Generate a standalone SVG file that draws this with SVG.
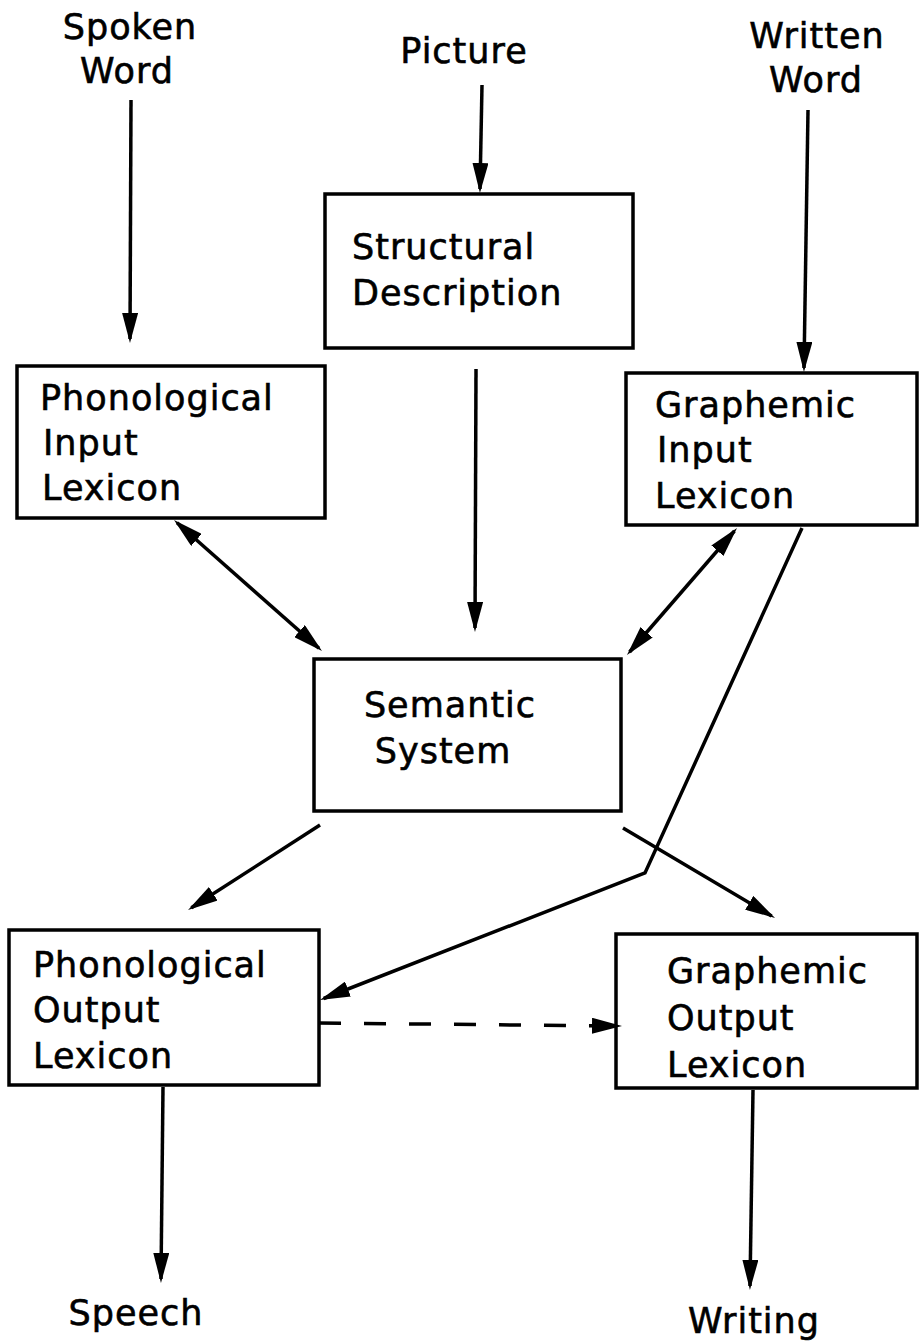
<svg xmlns="http://www.w3.org/2000/svg" width="920" height="1344" viewBox="0 0 920 1344">
<style>
.box{fill:#fff;stroke:#000;stroke-width:3.5}
.t{font-family:"DejaVu Sans",Verdana,sans-serif;font-size:35px;letter-spacing:1px;fill:#000;stroke:#000;stroke-width:0.6}
.c{stroke:#000;stroke-width:3.5;fill:none}
.a{marker-end:url(#ah)}
.d{marker-start:url(#ah);marker-end:url(#ah)}
</style>
<defs>
<marker id="ah" viewBox="0 0 30 16" refX="26" refY="8" markerWidth="30" markerHeight="16" markerUnits="userSpaceOnUse" orient="auto-start-reverse">
<path d="M0,0 L30,8 L0,16 Z" fill="#000"/>
</marker>
</defs>
<rect width="920" height="1344" fill="#fff"/>
<g id="labels">
<text class="t" x="130" y="39" text-anchor="middle">Spoken</text>
<text class="t" x="127" y="83" text-anchor="middle">Word</text>
<text class="t" x="464" y="63" text-anchor="middle">Picture</text>
<text class="t" x="817" y="48" text-anchor="middle">Written</text>
<text class="t" x="816" y="92" text-anchor="middle">Word</text>
<text class="t" x="136" y="1325" text-anchor="middle">Speech</text>
<text class="t" x="754" y="1333" text-anchor="middle">Writing</text>
</g>
<g id="structural">
<rect class="box" x="325" y="194" width="308" height="154"/>
<text class="t" x="352" y="259">Structural</text>
<text class="t" x="352" y="305">Description</text>
</g>
<g id="phon-input">
<rect class="box" x="17" y="366" width="308" height="152"/>
<text class="t" x="40" y="410">Phonological</text>
<text class="t" x="43" y="455">Input</text>
<text class="t" x="42" y="500">Lexicon</text>
</g>
<g id="graph-input">
<rect class="box" x="626" y="373" width="291" height="152"/>
<text class="t" x="655" y="417">Graphemic</text>
<text class="t" x="657" y="462">Input</text>
<text class="t" x="655" y="508">Lexicon</text>
</g>
<g id="semantic">
<rect class="box" x="314" y="659" width="307" height="152"/>
<text class="t" x="450" y="717" text-anchor="middle">Semantic</text>
<text class="t" x="443" y="763" text-anchor="middle">System</text>
</g>
<g id="phon-output">
<rect class="box" x="9" y="930" width="310" height="155"/>
<text class="t" x="33" y="977">Phonological</text>
<text class="t" x="33" y="1022">Output</text>
<text class="t" x="33" y="1068">Lexicon</text>
</g>
<g id="graph-output">
<rect class="box" x="616" y="934" width="301" height="154"/>
<text class="t" x="667" y="983">Graphemic</text>
<text class="t" x="667" y="1030">Output</text>
<text class="t" x="667" y="1077">Lexicon</text>
</g>
<g id="connectors">
<line class="c a" x1="131" y1="100" x2="130" y2="339"/>
<line class="c a" x1="482" y1="85" x2="480" y2="189"/>
<line class="c a" x1="808" y1="110" x2="804" y2="368"/>
<line class="c a" x1="476" y1="369" x2="475" y2="628"/>
<line class="c d" x1="177" y1="522.7" x2="319" y2="648.3"/>
<line class="c d" x1="734.4" y1="531" x2="629.6" y2="652"/>
<polyline class="c a" points="802,528 645,873 323.7,998.5"/>
<line class="c a" x1="320" y1="825" x2="191.4" y2="907.8"/>
<line class="c a" x1="623" y1="828" x2="771.6" y2="916"/>
<line class="c a" x1="319" y1="1023" x2="618" y2="1026" stroke-dasharray="22 23"/>
<line class="c a" x1="163" y1="1087" x2="161" y2="1279"/>
<line class="c a" x1="753" y1="1090" x2="750" y2="1286"/>
</g>
</svg>
